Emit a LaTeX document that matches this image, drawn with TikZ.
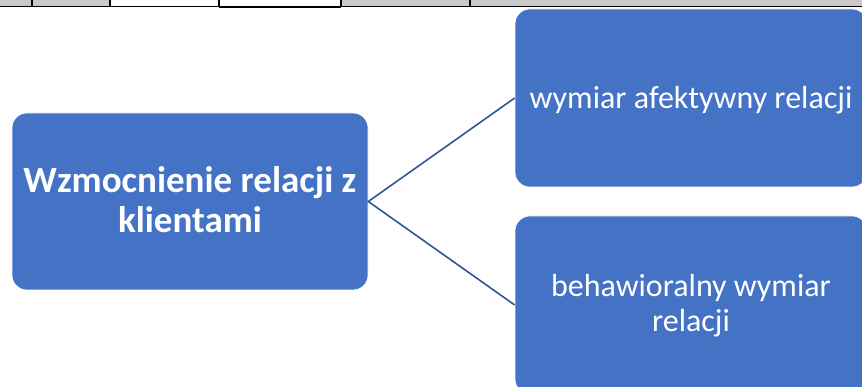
\documentclass[tikz,border=0pt]{standalone}
\usepackage{fontspec}
\setmainfont{Carlito}
\begin{document}
\begin{tikzpicture}[x=1pt,y=-1pt,
  box/.style={fill=boxblue, draw=white, line width=0.6pt, rounded corners=15pt,
    text=white, align=center, inner sep=0pt},
  link/.style={draw=lineblue, line width=1.6pt},
  grid/.style={draw=black, line width=1.2pt}]
\definecolor{boxblue}{HTML}{4472C4}
\definecolor{lineblue}{HTML}{2F5597}
\definecolor{cellgray}{HTML}{C8C8C8}
\useasboundingbox (0,0) rectangle (862,387);
\clip (0,0) rectangle (862,387);
% strip of table cells along the top edge
\fill[cellgray] (0,0) rectangle (110,6.5);
\fill[cellgray] (341,0) rectangle (862,6.5);
\foreach \cx in {32,110,219,341,470}
  \draw[grid] (\cx,0) -- (\cx,6.5);
\draw[black, line width=1.6pt] (0,6.5) -- (862,6.5);
\draw[black, line width=1.6pt] (219,7.3) -- (341,7.3);
% boxes
\node[box, minimum width=356pt, minimum height=177pt] (main) at (190,201.5) {};
\node[box, minimum width=352pt, minimum height=178pt] (aff) at (691,98) {};
\node[box, minimum width=352pt, minimum height=178pt] (beh) at (691,305) {};
% labels
\node[text=white, align=center, inner sep=0pt, font=\bfseries\fontsize{37}{40}\selectfont]
  at ([yshift=2pt]main.center) {Wzmocnienie relacji z\\klientami};
\node[text=white, inner sep=0pt, font=\fontsize{32}{34}\selectfont]
  at ([yshift=-2pt]aff.center) {wymiar afektywny relacji};
\node[text=white, align=center, inner sep=0pt, font=\fontsize{32}{35}\selectfont]
  at ([yshift=-1pt]beh.center) {behawioralny wymiar\\relacji};
% connectors
\draw[link] (aff.west) -- (main.east) -- (beh.west);
\end{tikzpicture}
\end{document}
